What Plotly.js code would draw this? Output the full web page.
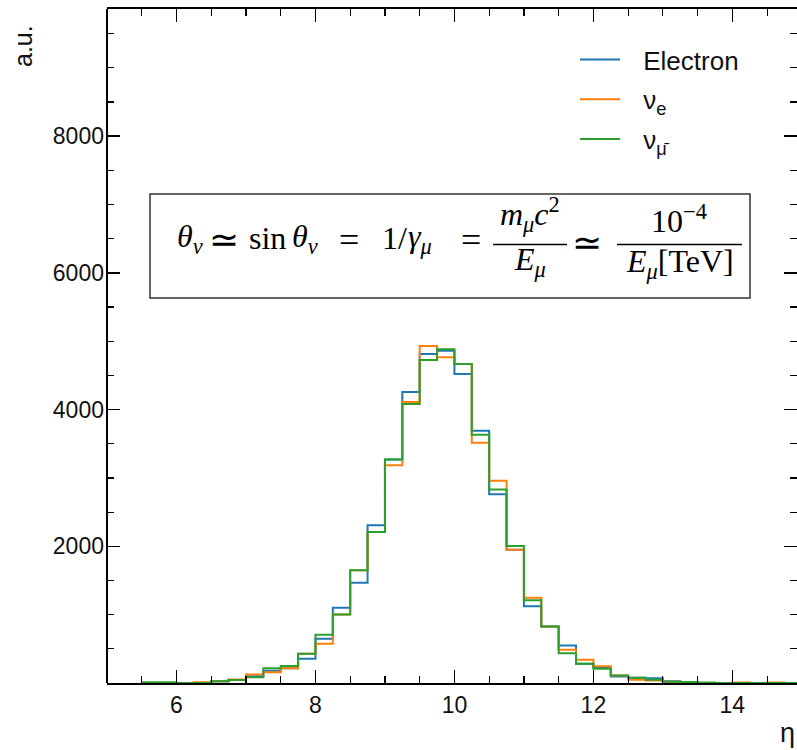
<!DOCTYPE html>
<html>
<head>
<meta charset="utf-8">
<script src="https://cdn.plot.ly/plotly-3.0.1.min.js"></script>
<style>html,body{margin:0;padding:0;background:#fff;}</style>
</head>
<body>
<div id="chart" style="width:797px;height:750px;"></div>
<script>
// Bin left edges (eta), width 0.25
const binEdges = [5.5, 5.75, 6.0, 6.25, 6.5, 6.75, 7.0, 7.25, 7.5, 7.75,
  8.0, 8.25, 8.5, 8.75, 9.0, 9.25, 9.5, 9.75, 10.0, 10.25,
  10.5, 10.75, 11.0, 11.25, 11.5, 11.75, 12.0, 12.25, 12.5, 12.75,
  13.0, 13.25, 13.5, 13.75, 14.0, 14.25, 14.5, 14.75, 15.0];

const electron = [0, 0, 0, 0, 25, 45, 100, 180, 217, 354,
  647, 1101, 1468, 2307, 3270, 4256, 4813, 4860, 4520, 3690,
  2761, 1951, 1121, 828, 549, 281, 226, 95, 76, 69,
  25, 15, 0, 0, 0, 0, 0, 0];

const nuE = [0, 0, 0, 10, 25, 50, 125, 158, 217, 427,
  574, 1003, 1648, 2209, 3186, 4109, 4930, 4764, 4666, 3513,
  2957, 1951, 1248, 828, 486, 340, 246, 110, 47, 38,
  20, 15, 0, 0, 8, 0, 8, 0];

const nuMuBar = [10, 10, 0, 0, 25, 45, 85, 217, 247, 427,
  706, 1003, 1648, 2209, 3270, 4080, 4725, 4881, 4666, 3630,
  2830, 2004, 1209, 828, 437, 281, 208, 110, 76, 47,
  20, 15, 8, 0, 0, 0, 0, 0];

const seriesNames = ["Electron", "ν<sub>e</sub>", "ν<sub>μ̄</sub>"];
const seriesColors = ["#1f77b4", "#ff7f0e", "#2ca02c"];

const xTickVals = [6, 8, 10, 12, 14];
const yTickVals = [2000, 4000, 6000, 8000];
const yTickText = ["2000", "4000", "6000", "8000"];

// geometry helpers (pixel -> paper)
const L = 107, R = 797, T = 9, B = 683;
const px = v => (v - L) / (R - L);
const py = v => (B - v) / (B - T);

function stepY(vals) { return vals.concat([vals[vals.length - 1]]); }

const legendGap = "\u2002\u2009";
const allSeries = [electron, nuE, nuMuBar];
const traces = allSeries.map((vals, i) => ({
  type: "scatter",
  mode: "lines",
  x: binEdges,
  y: stepY(vals),
  name: legendGap + seriesNames[i],
  legendgroup: "g" + i,
  line: { shape: "hv", color: seriesColors[i], width: 2 },
  hoverinfo: "skip"
}));

const sansFont = "Liberation Sans, Arial, sans-serif";
const serifFont = "Liberation Serif, Times New Roman, serif";
const mathSize = 32;
const mathFont = { family: serifFont, size: mathSize, color: "#000" };
const opFont = { family: serifFont, size: 36, color: "#000" };

function mathAnn(text, x, y, xanchor, font) {
  return { text: text, xref: "paper", yref: "paper", x: px(x), y: py(y),
    xanchor: xanchor || "center", yanchor: "middle", showarrow: false, font: font || mathFont };
}

const layout = {
  width: 797,
  height: 750,
  margin: { l: L, r: 797 - R, t: T, b: 750 - B, pad: 0 },
  paper_bgcolor: "#fff",
  plot_bgcolor: "#fff",
  font: { family: sansFont, size: 23, color: "#111" },
  showlegend: true,
  legend: {
    x: px(575), y: py(36), xanchor: "left", yanchor: "top",
    font: { family: sansFont, size: 26, color: "#111" },
    bgcolor: "rgba(0,0,0,0)", borderwidth: 0,
    itemwidth: 40,
    tracegroupgap: 3
  },
  xaxis: {
    range: [5, 14.93],
    tickmode: "array", tickvals: xTickVals,
    ticks: "inside", ticklen: 13, tickwidth: 1.5, tickcolor: "#000",
    minor: { tickmode: "linear", tick0: 0, dtick: 0.5, ticks: "inside", ticklen: 7, tickwidth: 1.2, tickcolor: "#000" },
    showline: true, linewidth: 2, linecolor: "#000", mirror: "ticks",
    showgrid: false, zeroline: false,
    tickfont: { family: sansFont, size: 23, color: "#111" }
  },
  yaxis: {
    range: [0, 9860],
    tickmode: "array", tickvals: yTickVals, ticktext: yTickText,
    ticks: "inside", ticklen: 13, tickwidth: 1.5, tickcolor: "#000",
    minor: { tickmode: "linear", tick0: 0, dtick: 500, ticks: "inside", ticklen: 7, tickwidth: 1.2, tickcolor: "#000" },
    showline: false, mirror: "ticks",
    showgrid: false, zeroline: false,
    ticklabelstandoff: 2,
    tickfont: { family: sansFont, size: 23, color: "#111" }
  },
  shapes: [
    // left spine
    { type: "line", xref: "paper", yref: "paper", x0: 0, x1: 0, y0: 0, y1: 1, line: { color: "#000", width: 2 } },
    // formula box
    { type: "rect", xref: "paper", yref: "paper", x0: px(150), x1: px(750), y0: py(298), y1: py(194), line: { color: "#333", width: 1.5 }, fillcolor: "rgba(255,255,255,0)" },
    // fraction bars
    { type: "line", xref: "paper", yref: "paper", x0: px(493), x1: px(567), y0: py(244.5), y1: py(244.5), line: { color: "#000", width: 1.3 } },
    { type: "line", xref: "paper", yref: "paper", x0: px(617), x1: px(742), y0: py(244.5), y1: py(244.5), line: { color: "#000", width: 1.3 } }
  ],
  annotations: [
    // axis labels
    { text: "a.u.", xref: "paper", yref: "paper", x: px(23), y: py(46), xanchor: "center", yanchor: "middle", textangle: -90, showarrow: false, font: { family: sansFont, size: 25, color: "#111" } },
    { text: "η", xref: "paper", yref: "paper", x: px(797), y: py(733), xanchor: "right", yanchor: "middle", showarrow: false, font: { family: sansFont, size: 27, color: "#111" } },
    // formula, main line
    mathAnn("<i>θ</i><sub><i>ν</i></sub>", 175, 238, "left"),
    mathAnn("≃", 224, 240, "center", opFont),
    mathAnn("sin", 247, 238, "left"),
    mathAnn("<i>θ</i><sub><i>ν</i></sub>", 290, 238, "left"),
    mathAnn("=", 349, 240, "center", opFont),
    mathAnn("1/", 380, 238, "left"),
    mathAnn("<i>γ</i><sub><i>μ</i></sub>", 406, 238, "left"),
    mathAnn("=", 471, 240, "center", opFont),
    // fractions
    mathAnn("<i>m</i><sub><i>μ</i></sub><i>c</i><sup>2</sup>", 530, 214),
    mathAnn("<i>E</i><sub><i>μ</i></sub>", 530, 261),
    mathAnn("≃", 587, 243, "center", opFont),
    mathAnn("10<sup>−4</sup>", 679, 219),
    mathAnn("<i>E</i><sub><i>μ</i></sub>[TeV]", 680, 263)
  ]
};

Plotly.newPlot("chart", traces, layout, { displayModeBar: false, staticPlot: true });
</script>
</body>
</html>
